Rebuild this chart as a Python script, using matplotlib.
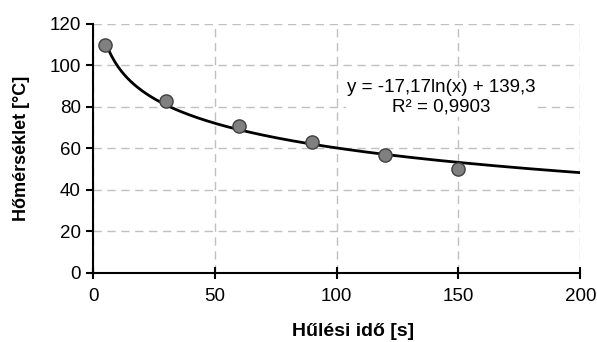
import numpy as np
import matplotlib.pyplot as plt

plt.rcParams['font.family'] = ['Liberation Sans', 'DejaVu Sans']

# measured points
ido = [5, 30, 60, 90, 120, 150]
homerseklet = [110, 83, 71, 63, 57, 50]

# logarithmic trend line shown on the chart: y = a*ln(x) + b
a_coef = -17.17
b_coef = 139.3
r2 = 0.9903

fig = plt.figure(figsize=(5.97, 3.42), dpi=100)
ax = fig.add_axes([0.156, 0.202, 0.816, 0.728])

xs = np.linspace(5, 200, 300)
ax.plot(xs, a_coef * np.log(xs) + b_coef, color='black', lw=2, zorder=3)
ax.plot(ido, homerseklet, 'o', ms=9.5, mfc='#808080', mec='#404040', mew=1, zorder=4)

ax.set_xlim(0, 200)
ax.set_ylim(0, 120)
ax.set_xticks([0, 50, 100, 150, 200])
ax.set_yticks(range(0, 121, 20))
ax.grid(True, ls=(0, (6, 4)), color='#c0c0c0', lw=1)
ax.set_axisbelow(True)
for s in ['top', 'right']:
    ax.spines[s].set_visible(False)
ax.spines['left'].set_linewidth(1.5)
ax.spines['bottom'].set_linewidth(1.5)
ax.tick_params(axis='x', direction='inout', length=8, width=1.5, labelsize=13.5, pad=7)
ax.tick_params(axis='y', direction='out', length=5, width=1.5, labelsize=13.5, pad=4)

ax.set_xlabel('Hűlési idő [s]', fontsize=14, fontweight='bold')
ax.xaxis.set_label_coords(0.534, -0.2)
ax.set_ylabel('Hőmérséklet [°C]', fontsize=13, fontweight='bold', labelpad=14)

eq = 'y = -17,17ln(x) + 139,3\nR² = ' + str(r2).replace('.', ',')
ax.text(143, 84.6, eq, fontsize=13.5, ha='center', va='center', linespacing=1.15,
        bbox=dict(facecolor='white', edgecolor='none', pad=1), zorder=5)

fig.savefig('out.png', dpi=100)
